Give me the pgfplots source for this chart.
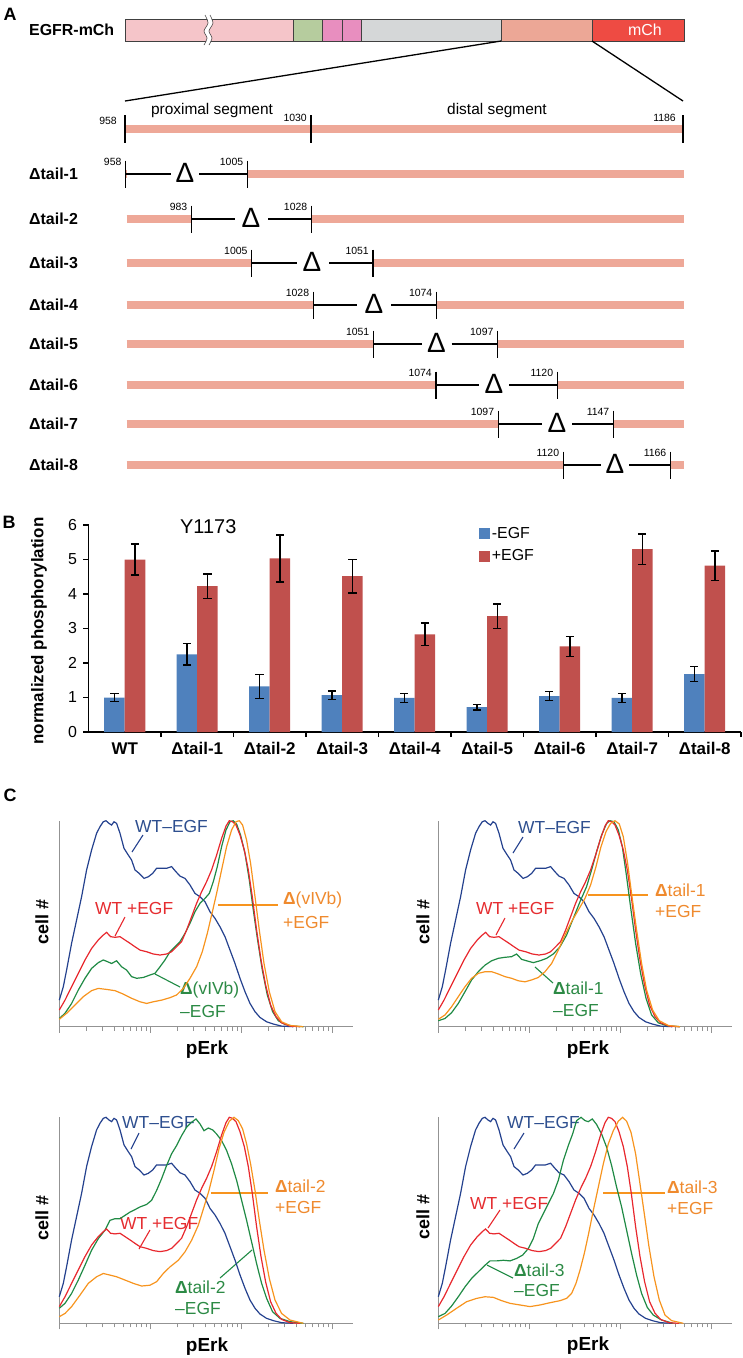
\documentclass[border=0pt]{standalone}
\usepackage{fontspec}
\setmainfont{Liberation Sans}
\usepackage{pgfplots}
\usepackage{pgfplotstable}
\pgfplotsset{compat=1.18}
\newcommand{\fs}[1]{\fontsize{#1}{#1}\selectfont}
\definecolor{pinkA}{HTML}{F5C5C9}
\definecolor{greenA}{HTML}{B6CC9E}
\definecolor{magA}{HTML}{E88EBF}
\definecolor{grayA}{HTML}{D5D7D8}
\definecolor{salA}{HTML}{ECA796}
\definecolor{redA}{HTML}{EE4B43}
\definecolor{salm}{HTML}{EEA898}
\definecolor{blueB}{HTML}{4F81BD}
\definecolor{redB}{HTML}{C0504D}
\definecolor{bluC}{HTML}{24418E}
\definecolor{redC}{HTML}{E8282E}
\definecolor{grnC}{HTML}{1F8A44}
\definecolor{orgC}{HTML}{F7941E}
\definecolor{bluT}{HTML}{2E4F8F}
\definecolor{redT}{HTML}{E52D30}
\definecolor{orgT}{HTML}{EF8A2E}
\definecolor{grnT}{HTML}{2C8A45}

\pgfplotstableread{
x b be r re
0 1.00 0.12 5.00 0.45
1 2.25 0.31 4.23 0.35
2 1.32 0.35 5.03 0.68
3 1.07 0.12 4.52 0.49
4 0.99 0.13 2.83 0.33
5 0.72 0.08 3.36 0.35
6 1.04 0.13 2.48 0.29
7 0.99 0.13 5.30 0.44
8 1.68 0.21 4.82 0.43
}\bdata

\pgfplotstableread{
x y
0 12.9
4 19.4
7.3 27.5
12.3 40.5
17.3 51.8
22.3 63.1
27.3 76.1
32.3 85.8
37.3 93.9
40.7 97.1
44 99.5
46.7 100
49.7 98.7
52.3 97.9
54.7 99.5
57.3 98.7
60.7 93.9
64.7 86.6
69 83.3
72.3 80.9
75.7 76.1
80 74.4
84.7 72
89 72.8
93.3 74.4
97.3 76.9
102.3 76.9
107.3 76.9
112.3 77.7
116.7 75.2
120.7 73.1
125.7 72
130.7 68.8
135.7 64.7
140.7 63.1
145.7 60.7
150.7 55.8
155.7 52.6
160.7 48.5
165.7 43.7
170.7 37.2
175.7 30.7
180.7 23.5
185.7 17
190.7 11.3
195.7 7.3
200.7 4.5
207.3 2.4
214 1.3
222.3 0.3
234 0
}\wtneg

\pgfplotstableread{
x y
0 8.1
5.7 12.9
12.3 19.4
19 25.9
25.7 32.4
32.3 38
39 42.1
44 44.5
47.3 45.8
51.3 43.7
55.7 43.4
60.7 43.7
65.7 42.1
70.7 40.5
75.7 38.8
80.7 37.2
87.3 36.4
94 35.3
100.7 34.8
107.3 35.3
112.3 36.4
117.3 38.8
122.3 41.3
127.3 46.9
132.3 53.4
137.3 59.9
142.3 65.5
147.3 70.4
152.3 76.1
157.3 83.3
162.3 91.4
166.7 97.4
170 100
173.3 99.5
176.7 97.9
180.7 93
185 85.8
189 76.1
193 63.1
197.3 46.9
201.7 32.4
206.3 20.2
211.3 10.5
216.7 4.9
222.3 1.9
230.7 0.3
240.7 0
}\wtpos

\pgfplotstableread{
x y
0 4
5.7 6.5
12.3 11.3
19 17.8
25.7 23.5
32.3 28.3
39 31.1
44 32.4
48 31.6
52.3 30.7
57.3 32
62.3 29.1
67.3 27.5
72.3 24.3
77.3 23.5
84 23.9
90.7 25.1
95.7 25.9
100.7 29.1
105.7 32.4
110.7 36.4
115.7 38.8
120.7 41.3
125.7 45.3
130.7 50.2
135.7 55.8
140.7 59.9
145.7 62.3
150 64.7
154 70.4
158 77.7
162.3 87.4
166.7 95.5
170.7 99.5
174 100
177.3 98.4
181.3 93
185.7 84.1
190 71.2
194 56.6
198.3 42.1
203 27.5
208 15.4
213.3 7.3
219 2.9
225.7 1.1
234 0.3
244 0
}\gA

\pgfplotstableread{
x y
0 3.6
7.3 6.5
15.7 10.5
24 14.6
32.3 17.5
39 18.6
47.3 18.1
55.7 17.5
63.7 15.9
72.3 13.8
80.7 12.1
87.3 11.3
94 12.1
102.3 12.9
110.7 14.1
117.3 15.4
124 18.6
130.7 23.5
137.3 29.1
143 36.4
148 45.3
152.7 55
157.3 64.7
162.3 76.1
167.3 87.4
172.3 95.5
176.7 99.5
180 100
183.3 97.9
187.3 90.6
191.3 79.3
195.7 63.1
200 46.9
204.7 30.7
210 17
215.7 7.3
222.3 2.4
230.7 0.6
244 0
}\oA

\pgfplotstableread{
x y
0 2.9
6.7 4
13.3 6.8
20 11.3
26.7 17
33.3 22.7
40 26.7
46.7 29.9
53.3 32
60 33.2
66.7 33.7
73.3 34
78.3 35.3
83.3 32.7
88.3 32
95 31.1
101.7 32
108.3 33.2
115 35.3
121.7 38.8
128.3 44.5
135 52.6
141.7 60.7
148.3 68
153.3 76.1
158.3 85
163.3 93
168.3 98.7
171.7 100
175.7 99.5
180 95.5
184 87.4
188.3 72.8
192.7 56.6
197.3 40.5
202.3 25.9
207.7 13.8
213.3 5.7
220 1.9
228.3 0.5
241.7 0
}\gB

\pgfplotstableread{
x y
0 3.6
6.7 5.7
13.3 9.7
20 14.6
26.7 19.4
33.3 23.5
40 25.9
46.7 26.7
53.3 26.7
60 25.6
66.7 24.3
73.3 23.5
80 22.3
86.7 21.8
93.3 22.7
100 23.9
106.7 26.7
113.3 30.7
120 37.2
126.7 44.5
133.3 51
140 56.6
146.7 62.3
152.3 68.8
157.7 77.7
162.7 87.4
167.7 94.7
172.3 98.7
176.7 100
181 98.4
185 92.2
189.3 79.3
193.7 63.1
198.3 46.9
203.3 30.7
208.3 17.8
214.3 8.1
221 2.9
230 0.6
241.7 0
}\oB

\pgfplotstableread{
x y
0 7.3
5.7 9.7
12.3 14.5
19 21
25.7 28.2
32.3 35.5
39 41.1
45.7 45.2
50.7 50
55.7 50.8
60.7 50.8
65.7 52.4
70.7 54
75.7 55.2
80.7 56.5
87.3 57.7
92.3 59.7
97.3 64.5
102.3 70.2
107.3 76.6
112.3 82.3
117.3 86.3
122.3 91.1
127.3 95.2
132.3 97.6
136.7 99.2
140.7 96.8
144.7 93.5
149 94.8
153.3 93.9
157.3 91.9
162.3 88.7
167.3 83.9
172.3 77.4
177.3 69.4
182.3 59.7
187.3 50
192.3 39.5
197.3 29
202.3 19.4
207.3 12.1
213.3 5.6
220.7 2.4
230.7 0.8
244 0
}\gC

\pgfplotstableread{
x y
0 3.2
5.7 4.8
12.3 8.1
20.7 13.7
29 19.4
37.3 22.6
44 24.2
50.7 23.4
57.3 22.6
65.7 21
74 19.4
82.3 18.1
90.7 18.5
97.3 20.2
104 24.2
110.7 27.4
119 30.6
125.7 34.7
132.3 40.3
139 47.6
144.7 56.5
149.7 64.5
154.7 74.2
159.7 84.7
164.7 92.7
170 98.1
174.7 100
179 98.4
183.3 94.4
187.3 87.1
191.3 77.4
195.7 64.5
200 50
204.7 35.5
210 21.8
215.7 11.3
222.3 4.8
230.7 1.6
244 0
}\oC

\pgfplotstableread{
x y
0 3.2
6.7 4.8
13.3 8.4
20 12.9
26.7 17.7
33.3 21.8
40 25
46.7 28.2
51.7 30.3
58.3 30.3
65 30.6
71.7 30.3
78.3 31.5
84.3 33.1
90 36.3
95 41.1
100 48.4
105 53.2
110 58.1
115 62.9
120 69.4
125 79
130 86.3
134.3 91.9
138.3 98.4
142.7 100
146.7 98.4
150 97.9
154 99.2
158.3 96.5
163.3 91.9
168.3 85.5
173.3 76.6
178.3 66.1
183.3 56.5
188.3 45.2
193.3 33.9
198.3 23.4
203.3 14.5
209 7.7
215 4
223.3 1.6
235 0
}\gD

\pgfplotstableread{
x y
0 1.6
8.3 4
18.3 7.3
28.3 10.5
38.3 12.1
46.7 12.9
55 12.6
63.3 11
71.7 9.7
81.7 8.9
91.7 8.1
101.7 8.9
111.7 10
121.7 11
128.3 12.1
133.3 14.5
137.7 19.4
141.7 25.8
146 33.9
150.3 43.5
155 54.8
160 66.1
165 77.4
170 87.1
175 93.5
180 98.1
184.3 100
188.3 98.1
192.7 92.7
197.3 82.3
201.7 67.7
206 53.2
210.7 37.1
215.7 22.6
221 11.3
226.7 4
233.3 1.3
245 0
}\oD

% tail row: #1 y, #2 L, #3 R, #4 Delta x, #5 left gap end, #6 right gap start, #7 numL, #8 numR, #9 label
\newcommand{\tailrow}[9]{%
\addplot[salm, line width=8bp] coordinates {(126.5,#1) (#2,#1)};
\addplot[salm, line width=8bp] coordinates {(#3,#1) (683.5,#1)};
\addplot[black, line width=1.1bp] coordinates {(#2,#1) (#5,#1)};
\addplot[black, line width=1.1bp] coordinates {(#6,#1) (#3,#1)};
\addplot[black, only marks, mark=|, mark size=13.5bp, mark options={line width=1.3bp}] coordinates {(#2,#1) (#3,#1)};
\node[anchor=base east, font=\fs{10.5}, inner sep=0pt] at ([xshift=-4bp, yshift=9bp]axis cs:#2,#1) {#7};
\node[anchor=base east, font=\fs{10.5}, inner sep=0pt] at ([xshift=-4bp, yshift=9bp]axis cs:#3,#1) {#8};
\node[anchor=base, font=\fs{28}, inner sep=0pt] at ([yshift=-8.5bp]axis cs:#4,#1) {Δ};
\node[anchor=west, font=\bfseries\fs{16}, inner sep=0pt] at (axis cs:29,#1) {#9};
}

\newcommand{\seg}[3]{\addplot[fill=#3, draw=none] coordinates {(#1,19) (#2,19) (#2,41) (#1,41)} -- cycle;}
\newcommand{\vdiv}[1]{\addplot[gray!50!black, line width=0.6bp] coordinates {(#1,19) (#1,41)};}
\newcommand{\lead}[5]{\addplot[#5, line width=1.1bp] coordinates {(#1,#2) (#3,#4)};}
\newcommand{\clab}[4]{\node[anchor=west, font=\fs{17.5}, text=#4, inner sep=0pt] at (axis cs:#1,#2) {#3};}

\pgfplotsset{histax/.style={scale only axis, width=293.4bp, height=206bp,
 xmin=0, xmax=293.4, ymin=0, ymax=100,
 axis x line=bottom, axis y line=left,
 axis line style={-, draw=gray!85, line width=0.8bp},
 ytick=\empty, xtick={0,91,182,273},
 minor xtick={27.4,43.4,54.8,63.6,70.8,76.9,82.2,86.8,118.4,134.4,145.8,154.6,161.8,167.9,173.2,177.8,209.4,225.4,236.8,245.6,252.8,258.9,264.2,268.8},
 xticklabels={}, tick align=outside, major tick length=6bp, minor tick length=4bp,
 every tick/.style={draw=gray!85, line width=0.6bp}, clip=false}}

\newcommand{\histpanel}[4]{%
\begin{axis}[histax, at={(#1bp,-#2bp)}, anchor=south west]
\addplot[bluC, line width=1.2bp] table[x=x,y=y] {\wtneg};
\addplot[grnC, line width=1.2bp] table[x=x,y=y] {#3};
\addplot[redC, line width=1.2bp] table[x=x,y=y] {\wtpos};
\addplot[orgC, line width=1.2bp] table[x=x,y=y] {#4};
\end{axis}}

\begin{document}
\begin{tikzpicture}
\useasboundingbox (0,0) rectangle (743bp,-1358bp);
% ---------- canvas: panel A schematic and all free text ----------
\begin{axis}[at={(0,0)}, anchor=north west, scale only axis, width=743bp, height=1358bp,
 xmin=0, xmax=743, ymin=0, ymax=1358, y dir=reverse, axis lines=none, clip=false]
% EGFR bar
\seg{125.6}{292.8}{pinkA}
\seg{292.8}{322.7}{greenA}
\seg{322.7}{342}{magA}
\seg{342}{361}{magA}
\seg{361}{501}{grayA}
\seg{501}{592}{salA}
\seg{592}{684}{redA}
\addplot[gray!50!black, line width=0.6bp] coordinates {(125.6,19) (684,19) (684,41) (125.6,41)} -- cycle;
\vdiv{292.8}\vdiv{322.7}\vdiv{342}\vdiv{361}\vdiv{501}\vdiv{592}
\addplot[white, line width=4bp, smooth] coordinates {(207.5,15) (210.5,23) (206.5,31) (209.5,38) (206.5,45)};
\addplot[gray!60!black, line width=0.6bp, smooth] coordinates {(205,15) (208,23) (204,31) (207,38) (204,45)};
\addplot[gray!60!black, line width=0.6bp, smooth] coordinates {(210,15) (213,23) (209,31) (212,38) (209,45)};
\node[font=\fs{16}, text=white, inner sep=0pt] at (axis cs:645,30) {mCh};
\node[anchor=west, font=\bfseries\fs{16}, inner sep=0pt] at (axis cs:29,30) {EGFR-mCh};
\node[font=\bfseries\fs{18}, inner sep=0pt] at (axis cs:10,14) {A};
% zoom lines
\addplot[black, line width=1.3bp] coordinates {(501,41) (125,101)};
\addplot[black, line width=1.3bp] coordinates {(592,41) (683,101)};
% ruler
\addplot[salm, line width=8bp] coordinates {(125,129) (684,129)};
\addplot[black, only marks, mark=|, mark size=14bp, mark options={line width=1.3bp}] coordinates {(125,129) (311,129) (683,129)};
\node[anchor=base east, font=\fs{10.5}, inner sep=0pt] at (axis cs:117,124) {958};
\node[anchor=base east, font=\fs{10.5}, inner sep=0pt] at (axis cs:307,121) {1030};
\node[anchor=base east, font=\fs{10.5}, inner sep=0pt] at (axis cs:676,121) {1186};
\node[font=\fs{15.5}, inner sep=0pt] at (axis cs:212,110) {proximal segment};
\node[font=\fs{15.5}, inner sep=0pt] at (axis cs:497,110) {distal segment};
% tails
\tailrow{174}{125.6}{247.4}{185}{171}{199}{958}{1005}{Δtail-1}
\tailrow{219}{191.5}{311.4}{251}{235}{268}{983}{1028}{Δtail-2}
\tailrow{263}{251.7}{373}{312}{297}{329}{1005}{1051}{Δtail-3}
\tailrow{305}{313.3}{436.5}{374}{357}{391}{1028}{1074}{Δtail-4}
\tailrow{344}{373.5}{497.6}{436.5}{421.5}{451.5}{1051}{1097}{Δtail-5}
\tailrow{385}{436}{557.3}{494}{479}{509}{1074}{1120}{Δtail-6}
\tailrow{424}{498.3}{613.5}{557}{542}{572}{1097}{1147}{Δtail-7}
\tailrow{465}{563.3}{670.5}{615}{601}{629}{1120}{1166}{Δtail-8}
% panel B text
\node[font=\bfseries\fs{18}, inner sep=0pt] at (axis cs:9,522) {B};
\node[anchor=west, font=\fs{20}, inner sep=0pt] at (axis cs:180,527) {Y1173};
\node[rotate=90, font=\bfseries\fs{17}, inner sep=0pt] at (axis cs:39,631) {normalized phosphorylation};
% panel C text
\node[font=\bfseries\fs{18}, inner sep=0pt] at (axis cs:10,795) {C};
\node[rotate=90, font=\bfseries\fs{18}, inner sep=0pt] at (axis cs:42,922) {cell \#};
\node[rotate=90, font=\bfseries\fs{18}, inner sep=0pt] at (axis cs:423,922) {cell \#};
\node[rotate=90, font=\bfseries\fs{18}, inner sep=0pt] at (axis cs:42,1218) {cell \#};
\node[rotate=90, font=\bfseries\fs{18}, inner sep=0pt] at (axis cs:423,1217) {cell \#};
\node[font=\bfseries\fs{19}, inner sep=0pt] at (axis cs:207,1050) {pErk};
\node[font=\bfseries\fs{19}, inner sep=0pt] at (axis cs:588,1050) {pErk};
\node[font=\bfseries\fs{19}, inner sep=0pt] at (axis cs:207,1347) {pErk};
\node[font=\bfseries\fs{19}, inner sep=0pt] at (axis cs:588,1346) {pErk};
% TL labels
\clab{135}{826}{WT–EGF}{bluT}
\clab{95}{908}{WT +EGF}{redT}
\clab{283}{900}{{\bfseries Δ}(vIVb)}{orgT}
\clab{283}{922}{+EGF}{orgT}
\clab{180}{990}{{\bfseries Δ}(vIVb)}{grnT}
\clab{180}{1011}{–EGF}{grnT}
\lead{143}{835}{132}{852}{bluC}
\lead{125}{917}{115}{936}{redC}
\lead{218}{905}{278}{905}{orgC}
\lead{155}{974}{180}{987}{grnC}
% TR labels
\clab{518}{827}{WT–EGF}{bluT}
\clab{476}{908}{WT +EGF}{redT}
\clab{655}{890}{{\bfseries Δ}tail-1}{orgT}
\clab{655}{911}{+EGF}{orgT}
\clab{553}{988}{{\bfseries Δ}tail-1}{grnT}
\clab{553}{1010}{–EGF}{grnT}
\lead{523}{837}{513}{853}{bluC}
\lead{505}{918}{496}{935}{redC}
\lead{588}{895}{648}{895}{orgC}
\lead{535}{967}{553}{983}{grnC}
% BL labels
\clab{122}{1122}{WT–EGF}{bluT}
\clab{120}{1223}{WT +EGF}{redT}
\clab{275}{1186}{{\bfseries Δ}tail-2}{orgT}
\clab{275}{1207}{+EGF}{orgT}
\clab{175}{1287}{{\bfseries Δ}tail-2}{grnT}
\clab{175}{1308}{–EGF}{grnT}
\lead{139}{1133}{131}{1149}{bluC}
\lead{150}{1230}{139}{1249}{redC}
\lead{211}{1193}{268}{1193}{orgC}
\lead{220}{1278}{252}{1250}{grnC}
% BR labels
\clab{507}{1122}{WT–EGF}{bluT}
\clab{470}{1203}{WT +EGF}{redT}
\clab{667}{1187}{{\bfseries Δ}tail-3}{orgT}
\clab{667}{1208}{+EGF}{orgT}
\clab{514}{1270}{{\bfseries Δ}tail-3}{grnT}
\clab{514}{1290}{–EGF}{grnT}
\lead{524}{1133}{514}{1149}{bluC}
\lead{500}{1210}{488}{1228}{redC}
\lead{603}{1193}{665}{1193}{orgC}
\lead{487}{1265}{513}{1278}{grnC}
\end{axis}

% ---------- panel B: bar chart ----------
\begin{axis}[at={(88.5bp,-732bp)}, anchor=south west, scale only axis,
 width=652.5bp, height=207bp, xmin=-0.5, xmax=8.5, ymin=0, ymax=6,
 axis x line=bottom, axis y line=left, axis line style={-, line width=1.2bp, black},
 ybar=0pt, bar width=20.5bp,
 ytick={0,1,2,3,4,5,6}, yticklabel style={font=\fs{16}, xshift=-3bp},
 /pgf/number format/assume math mode=true,
 xtick={0.5,1.5,2.5,3.5,4.5,5.5,6.5,7.5,8.5}, xticklabels={},
 tick align=outside, major tick length=5bp,
 every tick/.style={black, line width=1.2bp},
 extra x ticks={0,1,2,3,4,5,6,7,8},
 extra x tick labels={WT,Δtail-1,Δtail-2,Δtail-3,Δtail-4,Δtail-5,Δtail-6,Δtail-7,Δtail-8},
 extra x tick style={major tick length=0pt, xticklabel style={font=\bfseries\fs{17}, yshift=-7bp}},
 error bars/y dir=both, error bars/y explicit,
 error bars/error bar style={line width=1.3bp, black},
 error bars/error mark options={rotate=90, mark size=4bp, line width=1.3bp, black},
 legend style={at={(0.598,1.0)}, anchor=north west, draw=none, fill=none, font=\fs{16}, inner sep=0pt, row sep=6bp},
 legend cell align=left,
 legend image code/.code={\fill[#1] (0bp,-5.5bp) rectangle (11bp,5.5bp);},
 clip=false]
\addplot[fill=blueB, draw=none] table[x=x, y=b, y error=be] {\bdata};
\addplot[fill=redB, draw=none] table[x=x, y=r, y error=re] {\bdata};
\legend{-EGF,+EGF}
\end{axis}

% ---------- panel C: histograms ----------
\histpanel{59.3}{1026.7}{\gA}{\oA}
\histpanel{438.3}{1026.7}{\gB}{\oB}
\histpanel{59.3}{1323.3}{\gC}{\oC}
\histpanel{438.3}{1323.3}{\gD}{\oD}
\end{tikzpicture}
\end{document}
